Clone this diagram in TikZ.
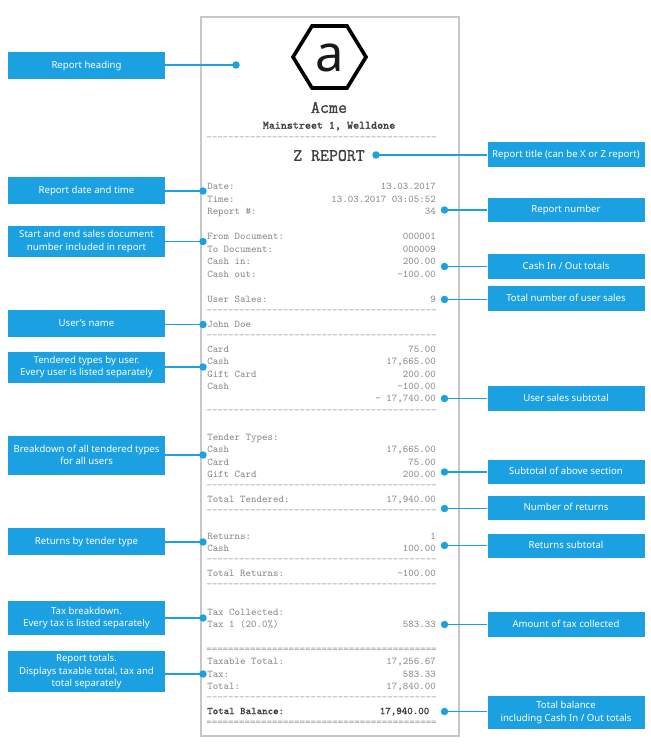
\documentclass[tikz,border=0pt]{standalone}
\usepackage{fontspec}
\setmainfont{Noto Sans}
\newfontfamily\rcptfont{Latin Modern Mono}
\newfontfamily\rcptbold{Latin Modern Mono}[FakeBold=1.2]
\definecolor{accent}{HTML}{1BA1E2}
\definecolor{rcptgray}{HTML}{8C8C8C}
\definecolor{rcptdark}{HTML}{404040}
\tikzset{
  px/.style={x=0.75pt,y=-0.75pt},
  lbl/.style={fill=accent,text=white,inner sep=0pt,align=center,minimum width=117.75pt,font=\fontsize{7.2}{9.2}\selectfont},
  lblone/.style={lbl,text height=5.6pt,text depth=1.6pt},
  dotm/.style={circle,fill=accent,inner sep=0pt,minimum size=5.6pt},
  conn/.style={draw=accent,line width=1.1pt},
  rl/.style={anchor=west,inner sep=0pt,text height=4.7pt,text depth=0pt,text=rcptgray,font=\rcptfont\fontsize{7.75}{9}\selectfont},
  rr/.style={anchor=east,inner sep=0pt,text height=4.7pt,text depth=0pt,text=rcptgray,font=\rcptfont\fontsize{7.75}{9}\selectfont},
  rdash/.style={anchor=center,inner sep=0pt,text=rcptgray!80,font=\rcptfont\fontsize{7.75}{9}\selectfont},
}
\newcommand{\dashrow}{------------------------------------------}
\newcommand{\eqrow}{==========================================}
\begin{document}
\begin{tikzpicture}[px]
\useasboundingbox (0,0) rectangle (650,755);
% receipt
\node[draw=black!22,line width=1pt,fill=white,minimum width=193.5pt,minimum height=539.25pt,inner sep=0pt] (receipt) at (330,376.5) {};
% logo
\draw[black,line width=2.7pt,line join=miter] (293,57) -- (312,26) -- (347,26) -- (366,57) -- (347,88) -- (312,88) -- cycle;
\node[inner sep=0pt,font=\fontsize{38}{38}\selectfont,text=black!90] (logoa) at (329.5,57.5) {a};
\node[inner sep=0pt,text=rcptdark,font=\rcptbold\fontsize{13.2}{14}\selectfont] (acme) at (329,107.5) {Acme};
\node[inner sep=0pt,text=rcptdark,font=\rcptbold\fontsize{8.5}{10}\selectfont] (addr) at (329,126) {Mainstreet 1, Welldone};
\node[rdash] (d1) at (321.5,139) {\dashrow};
\node[inner sep=0pt,text=rcptdark,font=\rcptbold\fontsize{13}{14}\selectfont] (ztitle) at (329,155.5) {Z REPORT};
% receipt rows
\node[rl] (t01) at (207,186.5) {Date:};
\node[rr] (v01) at (436,186.5) {13.03.2017};
\node[rl] (t02) at (207,199.5) {Time:};
\node[rr] (v02) at (436,199.5) {13.03.2017 03:05:52};
\node[rl] (t03) at (207,211.5) {Report \#:};
\node[rr] (v03) at (436,211.5) {34};
\node[rl] (t04) at (207,236.5) {From Document:};
\node[rr] (v04) at (436,236.5) {000001};
\node[rl] (t05) at (207,249) {To Document:};
\node[rr] (v05) at (436,249) {000009};
\node[rl] (t06) at (207,261) {Cash in:};
\node[rr] (v06) at (436,261) {200.00};
\node[rl] (t07) at (207,274) {Cash out:};
\node[rr] (v07) at (436,274) {-100.00};
\node[rl] (t08) at (207,299.5) {User Sales:};
\node[rr] (v08) at (436,299.5) {9};
\node[rdash] (d2) at (321.5,311.5) {\dashrow};
\node[rl] (t09) at (207,324) {John Doe};
\node[rdash] (d3) at (321.5,336.5) {\dashrow};
\node[rl] (t10) at (207,349) {Card};
\node[rr] (v10) at (436,349) {75.00};
\node[rl] (t11) at (207,361.5) {Cash};
\node[rr] (v11) at (436,361.5) {17,665.00};
\node[rl] (t12) at (207,374) {Gift Card};
\node[rr] (v12) at (436,374) {200.00};
\node[rl] (t13) at (207,386.5) {Cash};
\node[rr] (v13) at (436,386.5) {-100.00};
\node[rr] (v14) at (436,398.5) {– 17,740.00};
\node[rdash] (d4) at (321.5,411.5) {\dashrow};
\node[rl] (t15) at (207,437) {Tender Types:};
\node[rl] (t16) at (207,449.5) {Cash};
\node[rr] (v16) at (436,449.5) {17,665.00};
\node[rl] (t17) at (207,462) {Card};
\node[rr] (v17) at (436,462) {75.00};
\node[rl] (t18) at (207,474) {Gift Card};
\node[rr] (v18) at (436,474) {200.00};
\node[rdash] (d5) at (321.5,487) {\dashrow};
\node[rl] (t19) at (207,499) {Total Tendered:};
\node[rr] (v19) at (436,499) {17,940.00};
\node[rdash] (d6) at (321.5,512) {\dashrow};
\node[rl] (t20) at (207,536) {Returns:};
\node[rr] (v20) at (436,536) {1};
\node[rl] (t21) at (207,548.5) {Cash};
\node[rr] (v21) at (436,548.5) {100.00};
\node[rdash] (d7) at (321.5,561) {\dashrow};
\node[rl] (t22) at (207,573.5) {Total Returns:};
\node[rr] (v22) at (436,573.5) {-100.00};
\node[rdash] (d8) at (321.5,586) {\dashrow};
\node[rl] (t23) at (207,612) {Tax Collected:};
\node[rl] (t24) at (207,624.5) {Tax 1 (20.0\%)};
\node[rr] (v24) at (436,624.5) {583.33};
\node[rdash] (d9) at (321.5,650) {\eqrow};
\node[rl] (t25) at (207,661.5) {Taxable Total:};
\node[rr] (v25) at (436,661.5) {17,256.67};
\node[rl] (t26) at (207,674) {Tax:};
\node[rr] (v26) at (436,674) {583.33};
\node[rl] (t27) at (207,686) {Total:};
\node[rr] (v27) at (436,686) {17,840.00};
\node[rdash] (d10) at (321.5,699) {\dashrow};
\node[rl,text=rcptdark,font=\rcptbold\fontsize{7.75}{9}\selectfont] (t28) at (207,711) {Total Balance:};
\node[rr,text=rcptdark,font=\rcptbold\fontsize{7.75}{9}\selectfont] (v28) at (429.5,711) {17,940.00};
\node[rdash] (d11) at (321.5,723.5) {\eqrow};
% left labels
\node[lblone,minimum height=20.25pt] (l1) at (86.5,65.5) {Report heading};
\node[lblone,minimum height=20.25pt] (l2) at (86.5,190.5) {Report date and time};
\node[lbl,minimum height=23.25pt] (l3) at (86.5,241.5) {Start and end sales document\\number included in report};
\node[lblone,minimum height=20.25pt] (l4) at (86.5,323.5) {User's name};
\node[lbl,minimum height=23.25pt] (l5) at (86.5,367) {Tendered types by user.\\Every user is listed separately};
\node[lbl,minimum height=29.25pt] (l6) at (86.5,455) {Breakdown of all tendered types\\for all users};
\node[lblone,minimum height=20.25pt] (l7) at (86.5,541.5) {Returns by tender type};
\node[lbl,minimum height=25.5pt] (l8) at (86.5,618) {Tax breakdown.\\Every tax is listed separately};
\node[lbl,minimum height=30.75pt] (l9) at (86.5,671.5) {Report totals.\\Displays taxable total, tax and\\total separately};
% right labels
\node[lblone,minimum height=18.75pt] (r1) at (566,154.5) {Report title (can be X or Z report)};
\node[lblone,minimum height=18pt] (r2) at (566,210) {Report number};
\node[lblone,minimum height=18.75pt] (r3) at (566,266.5) {Cash In / Out totals};
\node[lblone,minimum height=18.75pt] (r4) at (566,298.5) {Total number of user sales};
\node[lblone,minimum height=18.75pt] (r5) at (566,398.5) {User sales subtotal};
\node[lblone,minimum height=18pt] (r6) at (566,472) {Subtotal of above section};
\node[lblone,minimum height=18pt] (r7) at (566,508) {Number of returns};
\node[lblone,minimum height=18pt] (r8) at (566,546) {Returns subtotal};
\node[lblone,minimum height=18.75pt] (r9) at (566,624.5) {Amount of tax collected};
\node[lbl,minimum height=24.75pt] (r10) at (566,712.5) {Total balance\\including Cash In / Out totals};
% dots
\node[dotm] (dl1) at (236,65) {};
\node[dotm] (dl2) at (203,191) {};
\node[dotm] (dl3) at (203,241.5) {};
\node[dotm] (dl4) at (203,324.5) {};
\node[dotm] (dl5) at (203,367) {};
\node[dotm] (dl6) at (203,455) {};
\node[dotm] (dl7) at (203,542) {};
\node[dotm] (dl8) at (203,618) {};
\node[dotm] (dl9) at (203,674) {};
\node[dotm] (dr1) at (376,155) {};
\node[dotm] (dr2) at (444.5,210) {};
\node[dotm] (dr3) at (444.5,266.5) {};
\node[dotm] (dr4) at (444.5,299.5) {};
\node[dotm] (dr5) at (444.5,398.5) {};
\node[dotm] (dr6) at (444.5,472) {};
\node[dotm] (dr7) at (444.5,508.5) {};
\node[dotm] (dr8) at (444.5,545.5) {};
\node[dotm] (dr9) at (444.5,624.5) {};
\node[dotm] (dr10) at (444.5,711.5) {};
% connectors
\foreach \i in {1,...,9} {\draw[conn] (l\i.east |- dl\i.center) -- (dl\i.center);}
\foreach \i in {1,...,10} {\draw[conn] (r\i.west |- dr\i.center) -- (dr\i.center);}
\end{tikzpicture}
\end{document}
